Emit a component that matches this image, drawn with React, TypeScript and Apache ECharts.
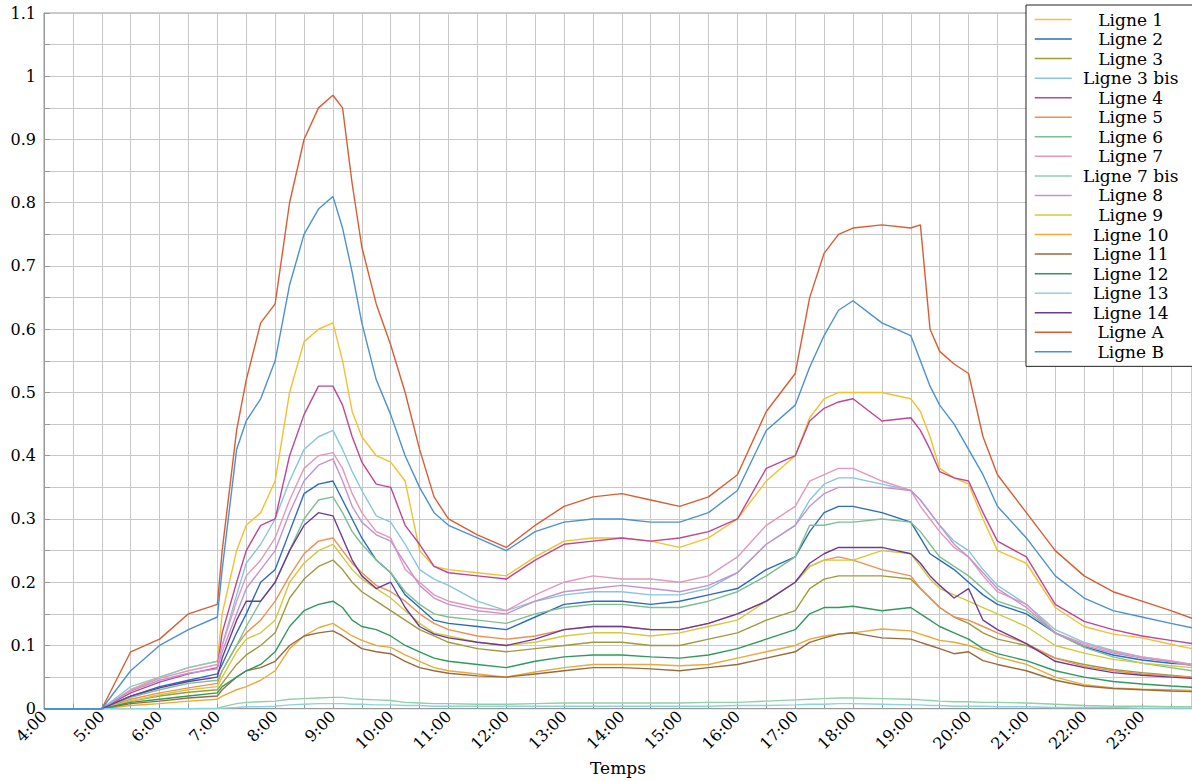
import React, { useEffect, useRef } from 'react';
import * as echarts from 'echarts';

// time in minutes since midnight
const times = [
  240, 300, 330, 360, 390, 420,
  425, 440, 450, 465, 480, 495, 510, 525, 540,
  550, 560, 570, 585, 600, 615, 630, 645, 660,
  690, 720, 750, 780, 810, 840, 870, 900, 930, 960, 990,
  1020, 1035, 1050, 1065, 1080, 1110, 1140,
  1150, 1160, 1170, 1185, 1200, 1215, 1230,
  1260, 1290, 1320, 1350, 1380, 1410, 1432,
];

const ligne1 = [
  0, 0, 0.03, 0.05, 0.065, 0.075,
  0.15, 0.25, 0.29, 0.31, 0.36, 0.5, 0.58, 0.6, 0.61,
  0.55, 0.47, 0.43, 0.4, 0.39, 0.36, 0.25, 0.225, 0.22,
  0.215, 0.21, 0.24, 0.265, 0.27, 0.27, 0.265, 0.255, 0.27, 0.3, 0.36,
  0.4, 0.46, 0.49, 0.5, 0.5, 0.5, 0.49,
  0.47, 0.43, 0.38, 0.365, 0.355, 0.3, 0.25,
  0.23, 0.16, 0.13, 0.118, 0.112, 0.102, 0.095,
];
const ligne2 = [
  0, 0, 0.02, 0.035, 0.045, 0.055,
  0.07, 0.12, 0.15, 0.2, 0.22, 0.28, 0.34, 0.355, 0.36,
  0.33, 0.3, 0.27, 0.235, 0.215, 0.18, 0.16, 0.14, 0.135,
  0.13, 0.125, 0.145, 0.165, 0.17, 0.17, 0.165, 0.17, 0.18, 0.19, 0.22,
  0.24, 0.28, 0.31, 0.32, 0.32, 0.31, 0.295,
  0.27, 0.245, 0.235, 0.22, 0.2, 0.18, 0.165,
  0.15, 0.12, 0.098, 0.085, 0.077, 0.072, 0.07,
];
const ligne3 = [
  0, 0, 0.012, 0.02, 0.026, 0.03,
  0.04, 0.07, 0.085, 0.1, 0.12, 0.175, 0.205, 0.225, 0.235,
  0.22, 0.2, 0.185, 0.17, 0.155, 0.14, 0.125, 0.115, 0.105,
  0.095, 0.09, 0.095, 0.1, 0.105, 0.105, 0.1, 0.1, 0.11, 0.12, 0.14,
  0.155, 0.19, 0.205, 0.21, 0.21, 0.21, 0.205,
  0.19, 0.175, 0.16, 0.145, 0.135, 0.12, 0.11,
  0.1, 0.08, 0.07, 0.062, 0.057, 0.053, 0.05,
];
const ligne3bis = [
  0, 0, 0.035, 0.05, 0.065, 0.075,
  0.1, 0.18, 0.23, 0.26, 0.3, 0.36, 0.41, 0.43, 0.44,
  0.41, 0.375, 0.345, 0.305, 0.295, 0.26, 0.22, 0.205, 0.195,
  0.17, 0.155, 0.17, 0.18, 0.185, 0.185, 0.18, 0.18, 0.19, 0.215, 0.26,
  0.29, 0.33, 0.355, 0.365, 0.365, 0.355, 0.345,
  0.33, 0.31, 0.29, 0.265, 0.25, 0.22, 0.195,
  0.165, 0.125, 0.105, 0.092, 0.082, 0.075, 0.07,
];
const ligne4 = [
  0, 0, 0.025, 0.042, 0.055, 0.065,
  0.12, 0.2, 0.25, 0.29, 0.3, 0.4, 0.465, 0.51, 0.51,
  0.48, 0.43, 0.39, 0.355, 0.35, 0.29, 0.26, 0.225, 0.215,
  0.21, 0.205, 0.235, 0.26, 0.265, 0.27, 0.265, 0.27, 0.28, 0.3, 0.38,
  0.4, 0.455, 0.475, 0.485, 0.49, 0.455, 0.46,
  0.44, 0.41, 0.375, 0.365, 0.36, 0.31, 0.265,
  0.24, 0.165, 0.138, 0.125, 0.115, 0.108, 0.103,
];
const ligne5 = [
  0, 0, 0.015, 0.025, 0.033, 0.04,
  0.06, 0.1, 0.12, 0.14, 0.17, 0.21, 0.245, 0.265, 0.27,
  0.25, 0.23, 0.215, 0.195, 0.185, 0.17, 0.15, 0.135, 0.125,
  0.115, 0.11, 0.115, 0.125, 0.13, 0.13, 0.125, 0.125, 0.135, 0.15, 0.17,
  0.2, 0.225, 0.235, 0.24, 0.235, 0.22, 0.21,
  0.19, 0.175, 0.16, 0.145, 0.14, 0.13, 0.12,
  0.103, 0.08, 0.067, 0.06, 0.055, 0.052, 0.05,
];
const ligne6 = [
  0, 0, 0.018, 0.03, 0.04, 0.045,
  0.06, 0.1, 0.13, 0.17, 0.2, 0.25, 0.3, 0.33, 0.335,
  0.31, 0.28, 0.26, 0.235, 0.215, 0.185, 0.165, 0.15, 0.145,
  0.14, 0.135, 0.15, 0.16, 0.165, 0.165, 0.16, 0.16, 0.17, 0.185, 0.21,
  0.24, 0.29, 0.29, 0.295, 0.295, 0.3, 0.295,
  0.28, 0.26, 0.24, 0.225, 0.21, 0.19, 0.17,
  0.155, 0.12, 0.097, 0.082, 0.072, 0.065, 0.06,
];
const ligne7 = [
  0, 0, 0.03, 0.048, 0.06, 0.07,
  0.1, 0.17, 0.21, 0.235, 0.27, 0.33, 0.38, 0.4, 0.405,
  0.38, 0.34, 0.31, 0.28, 0.27, 0.22, 0.2, 0.18, 0.17,
  0.16, 0.155, 0.18, 0.2, 0.21, 0.205, 0.205, 0.2, 0.21, 0.24, 0.29,
  0.32, 0.36, 0.37, 0.38, 0.38, 0.36, 0.345,
  0.32, 0.3, 0.28, 0.255, 0.24, 0.21, 0.185,
  0.165, 0.12, 0.103, 0.09, 0.082, 0.076, 0.07,
];
const ligne7bis = [
  0, 0, 0, 0, 0, 0.001,
  0.003, 0.008, 0.01, 0.011, 0.012, 0.015, 0.016, 0.017, 0.018,
  0.018, 0.016, 0.015, 0.014, 0.013, 0.01, 0.009, 0.008, 0.008,
  0.007, 0.007, 0.008, 0.009, 0.009, 0.009, 0.009, 0.009, 0.01, 0.01, 0.012,
  0.014, 0.015, 0.016, 0.017, 0.017, 0.016, 0.015,
  0.014, 0.013, 0.012, 0.011, 0.011, 0.01, 0.01,
  0.009, 0.007, 0.005, 0.004, 0.004, 0.003, 0.003,
];
const ligne8 = [
  0, 0, 0.028, 0.045, 0.056, 0.063,
  0.09, 0.15, 0.19, 0.22, 0.25, 0.31, 0.36, 0.385, 0.395,
  0.36, 0.32, 0.295, 0.275, 0.265, 0.23, 0.195, 0.175, 0.165,
  0.155, 0.15, 0.17, 0.185, 0.19, 0.195, 0.19, 0.185, 0.195, 0.215, 0.26,
  0.29, 0.32, 0.34, 0.35, 0.35, 0.35, 0.345,
  0.33, 0.31, 0.29, 0.26, 0.24, 0.215, 0.19,
  0.16, 0.12, 0.1, 0.088, 0.08, 0.074, 0.068,
];
const ligne9 = [
  0, 0, 0.012, 0.022, 0.03, 0.035,
  0.05, 0.09, 0.11, 0.12, 0.14, 0.2, 0.23, 0.25, 0.26,
  0.24, 0.22, 0.205, 0.19, 0.175, 0.155, 0.135, 0.12, 0.115,
  0.105, 0.1, 0.105, 0.115, 0.12, 0.12, 0.115, 0.12, 0.13, 0.14, 0.17,
  0.2, 0.225, 0.235, 0.235, 0.235, 0.25, 0.245,
  0.225, 0.205, 0.19, 0.18, 0.17, 0.16, 0.15,
  0.13, 0.1, 0.088, 0.078, 0.072, 0.068, 0.065,
];
const ligne10 = [
  0, 0, 0.005, 0.008, 0.012, 0.015,
  0.02, 0.03, 0.035, 0.045, 0.06, 0.095, 0.115, 0.128, 0.135,
  0.125, 0.115, 0.108, 0.1, 0.097, 0.085, 0.075, 0.065, 0.06,
  0.055, 0.05, 0.058, 0.065, 0.07, 0.07, 0.07, 0.068, 0.07, 0.08, 0.09,
  0.1, 0.11, 0.115, 0.118, 0.12, 0.126, 0.123,
  0.118, 0.113, 0.108, 0.105, 0.1, 0.092, 0.082,
  0.07, 0.05, 0.038, 0.033, 0.031, 0.03, 0.029,
];
const ligne11 = [
  0, 0, 0.008, 0.012, 0.017, 0.02,
  0.03, 0.05, 0.06, 0.065, 0.075, 0.1, 0.115, 0.12, 0.123,
  0.115, 0.105, 0.095, 0.09, 0.087, 0.075, 0.065, 0.06, 0.056,
  0.052, 0.05, 0.055, 0.06, 0.065, 0.065, 0.063, 0.06, 0.065, 0.07, 0.08,
  0.09, 0.105, 0.112, 0.118, 0.12, 0.112, 0.11,
  0.105, 0.1, 0.095, 0.087, 0.09, 0.076, 0.07,
  0.06, 0.045, 0.036, 0.032, 0.03, 0.028, 0.027,
];
const ligne12 = [
  0, 0, 0.01, 0.015, 0.02, 0.025,
  0.035, 0.05, 0.06, 0.07, 0.09, 0.13, 0.155, 0.165, 0.17,
  0.16, 0.14, 0.13, 0.125, 0.115, 0.1, 0.09, 0.08, 0.075,
  0.07, 0.065, 0.075, 0.082, 0.085, 0.085, 0.082, 0.08, 0.085, 0.095, 0.11,
  0.125, 0.15, 0.16, 0.16, 0.162, 0.155, 0.16,
  0.15, 0.14, 0.13, 0.12, 0.11, 0.095, 0.087,
  0.076, 0.06, 0.05, 0.043, 0.039, 0.036, 0.034,
];
const ligne13 = [
  0, 0, 0, 0, 0, 0,
  0.001, 0.002, 0.003, 0.003, 0.004, 0.006, 0.007, 0.008, 0.008,
  0.008, 0.007, 0.007, 0.006, 0.006, 0.005, 0.005, 0.004, 0.004,
  0.004, 0.004, 0.004, 0.004, 0.004, 0.004, 0.004, 0.004, 0.004, 0.005, 0.005,
  0.006, 0.007, 0.007, 0.008, 0.008, 0.007, 0.006,
  0.006, 0.005, 0.005, 0.004, 0.004, 0.004, 0.003,
  0.003, 0.002, 0.002, 0.002, 0.001, 0.001, 0.001,
];
const ligne14 = [
  0, 0, 0.02, 0.033, 0.043, 0.05,
  0.08, 0.14, 0.17, 0.17, 0.2, 0.25, 0.29, 0.31, 0.305,
  0.27, 0.235, 0.21, 0.19, 0.2, 0.16, 0.13, 0.118, 0.112,
  0.105, 0.1, 0.11, 0.125, 0.13, 0.13, 0.125, 0.125, 0.135, 0.15, 0.17,
  0.2, 0.23, 0.245, 0.255, 0.255, 0.255, 0.245,
  0.23, 0.21, 0.195, 0.175, 0.19, 0.14, 0.125,
  0.103, 0.075, 0.065, 0.057, 0.053, 0.05, 0.048,
];
const ligneA = [
  0, 0, 0.09, 0.11, 0.15, 0.165,
  0.25, 0.44, 0.52, 0.61, 0.64, 0.8, 0.9, 0.95, 0.97,
  0.95, 0.83, 0.73, 0.64, 0.575, 0.5, 0.41, 0.335, 0.3,
  0.275, 0.255, 0.29, 0.32, 0.335, 0.34, 0.33, 0.32, 0.335, 0.37, 0.47,
  0.53, 0.65, 0.72, 0.75, 0.76, 0.765, 0.76,
  0.765, 0.6, 0.565, 0.545, 0.53, 0.43, 0.37,
  0.31, 0.25, 0.21, 0.185, 0.17, 0.155, 0.143,
];
const ligneB = [
  0, 0, 0.06, 0.1, 0.125, 0.145,
  0.22, 0.41, 0.455, 0.49, 0.55, 0.67, 0.75, 0.79, 0.81,
  0.76, 0.69, 0.61, 0.52, 0.465, 0.4, 0.35, 0.31, 0.29,
  0.27, 0.25, 0.28, 0.295, 0.3, 0.3, 0.295, 0.295, 0.31, 0.345, 0.44,
  0.48, 0.54, 0.59, 0.63, 0.645, 0.61, 0.59,
  0.55, 0.51, 0.48, 0.45, 0.41, 0.37, 0.32,
  0.27, 0.21, 0.175, 0.155, 0.145, 0.135, 0.128,
];

const seriesNames = [
  'Ligne 1', 'Ligne 2', 'Ligne 3', 'Ligne 3 bis', 'Ligne 4', 'Ligne 5', 'Ligne 6',
  'Ligne 7', 'Ligne 7 bis', 'Ligne 8', 'Ligne 9', 'Ligne 10', 'Ligne 11', 'Ligne 12',
  'Ligne 13', 'Ligne 14', 'Ligne A', 'Ligne B',
];
const seriesValues = [
  ligne1, ligne2, ligne3, ligne3bis, ligne4, ligne5, ligne6, ligne7, ligne7bis,
  ligne8, ligne9, ligne10, ligne11, ligne12, ligne13, ligne14, ligneA, ligneB,
];
const seriesColors = [
  '#f2c12e', '#2c6cbc', '#9d9b3c', '#88c6d8', '#c04596', '#ef8f50', '#7cc090',
  '#e597b9', '#8fd0a8', '#c493cf', '#d2c93c', '#e8aa3a', '#9a6a3c', '#2f9a5a',
  '#8dd3df', '#6b3a99', '#d95d32', '#4c91d1',
];

const FONT = '"DejaVu Serif", "Liberation Serif", serif';

export default function App() {
  const ref = useRef<HTMLDivElement>(null);

  useEffect(() => {
    if (!ref.current) return;
    const chart = echarts.init(ref.current, undefined, { renderer: 'svg' });

    const series = seriesNames.map((name, i) => ({
      name,
      type: 'line',
      data: times.map((t, j) => [t, seriesValues[i][j]]),
      symbol: 'none',
      color: seriesColors[i],
      lineStyle: { width: 1.4, color: seriesColors[i] },
    }));

    chart.setOption({
      animation: false,
      backgroundColor: '#fff',
      grid: {
        left: 44, right: 0, top: 13, bottom: 62,
        show: true, borderColor: '#999', borderWidth: 1,
      },
      xAxis: {
        type: 'value',
        min: 240,
        max: 1432,
        interval: 60,
        name: 'Temps',
        nameLocation: 'middle',
        nameGap: 44,
        nameTextStyle: { fontFamily: FONT, fontSize: 17, color: '#000' },
        axisLine: { show: true, lineStyle: { color: '#999' } },
        axisTick: { show: true, inside: true, length: 5, lineStyle: { color: '#999' } },
        minorTick: { show: true, splitNumber: 2, length: 5, lineStyle: { color: '#999' } },
        splitLine: { show: true, lineStyle: { color: '#c8c8c8', width: 1 } },
        minorSplitLine: { show: true, lineStyle: { color: '#c8c8c8', width: 1 } },
        axisLabel: {
          rotate: 45,
          margin: 5,
          fontFamily: FONT,
          fontSize: 16,
          color: '#000',
          showMaxLabel: false,
          formatter: (v: number) => (v % 60 === 0 ? `${v / 60}:00` : ''),
        },
      },
      yAxis: {
        type: 'value',
        min: 0,
        max: 1.1,
        interval: 0.1,
        axisLine: { show: true, lineStyle: { color: '#999' } },
        axisTick: { show: true, inside: true, length: 6, lineStyle: { color: '#999' } },
        minorTick: { show: true, splitNumber: 2, length: 6, lineStyle: { color: '#999' } },
        splitLine: { show: true, lineStyle: { color: '#c8c8c8', width: 1 } },
        minorSplitLine: { show: true, lineStyle: { color: '#c8c8c8', width: 1 } },
        axisLabel: {
          margin: 8,
          fontFamily: FONT,
          fontSize: 16,
          color: '#000',
          formatter: (v: number) => `${Math.round(v * 10) / 10}`,
        },
      },
      legend: {
        orient: 'vertical',
        left: 1026,
        top: 5,
        padding: [6, 8, 6, 8],
        itemWidth: 37,
        itemHeight: 14,
        itemGap: 2.55,
        backgroundColor: '#fff',
        borderColor: '#222',
        borderWidth: 1,
        borderRadius: 0,
        itemStyle: { opacity: 0 },
        lineStyle: { width: 1.5 },
        formatter: '{a|{name}}',
        textStyle: {
          fontFamily: FONT,
          fontSize: 17,
          lineHeight: 17,
          color: '#000',
          rich: {
            a: { width: 108, height: 17, lineHeight: 17, align: 'center', fontFamily: FONT, fontSize: 17, color: '#000' },
          },
        },
      },
      series,
    });

    return () => chart.dispose();
  }, []);

  return (
    <div
      ref={ref}
      style={{ position: 'fixed', left: 0, top: 0, width: 1192, height: 781 }}
    />
  );
}
